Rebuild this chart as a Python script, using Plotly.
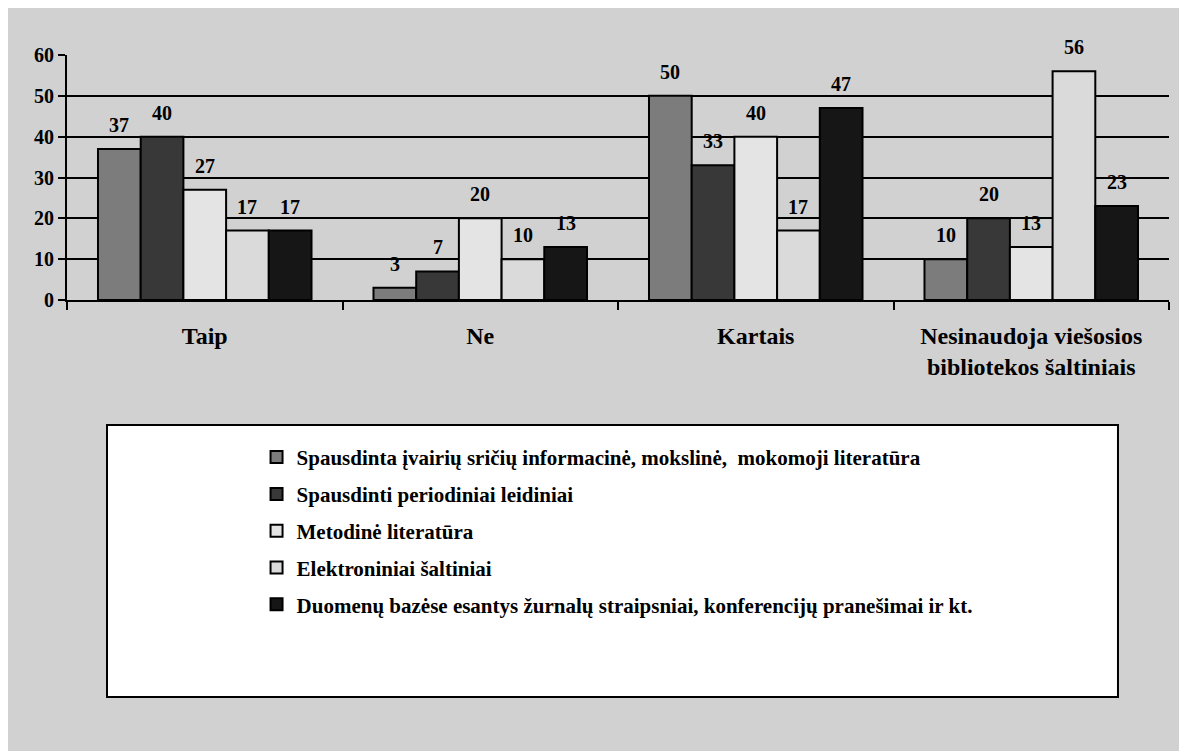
import plotly.graph_objects as go

categories = ["Taip", "Ne", "Kartais", "Nesinaudoja viešosios<br>bibliotekos šaltiniais"]
series_names = [
    "Spausdinta įvairių sričių informacinė, mokslinė,  mokomoji literatūra",
    "Spausdinti periodiniai leidiniai",
    "Metodinė literatūra",
    "Elektroniniai šaltiniai",
    "Duomenų bazėse esantys žurnalų straipsniai, konferencijų pranešimai ir kt.",
]
values = [
    [37, 3, 50, 10],
    [40, 7, 33, 20],
    [27, 20, 40, 13],
    [17, 10, 17, 56],
    [17, 13, 47, 23],
]
colors = ["#7c7c7c", "#383838", "#e4e4e4", "#dadada", "#161616"]
FONT = "Liberation Serif"
BARGAP = 0.225

fig = go.Figure()
for name, vals, col in zip(series_names, values, colors):
    fig.add_trace(go.Bar(
        x=categories, y=vals, name="<b>" + name + "</b>",
        marker=dict(color=col, line=dict(color="black", width=2)),
        legendgroup=name,
    ))

# value labels sit a little above each bar, like the original
bar_w = (1 - BARGAP) / len(values)
for i, vals in enumerate(values):
    off = (i - (len(values) - 1) / 2) * bar_w
    for j, v in enumerate(vals):
        fig.add_annotation(
            x=j + off, y=v, xref="x", yref="y", text=f"<b>{v}</b>",
            showarrow=False, yanchor="bottom", yshift=11,
            font=dict(family=FONT, size=20, color="black"),
        )

fig.update_layout(
    width=1187, height=751,
    margin=dict(l=59, r=26, t=47, b=459),
    paper_bgcolor="#d1d1d1", plot_bgcolor="rgba(0,0,0,0)",
    barmode="group", bargap=BARGAP, bargroupgap=0,
    font=dict(family=FONT, color="black"),
    showlegend=True,
    legend=dict(
        x=0.172, xanchor="left", y=-0.559, yanchor="top",
        bgcolor="rgba(0,0,0,0)", font=dict(family=FONT, size=21, color="black"),
        tracegroupgap=6.5, itemwidth=30,
    ),
    shapes=[
        dict(type="rect", xref="paper", yref="paper", x0=0.0363, x1=0.9537, y0=-1.6204, y1=-0.5102,
             fillcolor="white", line=dict(color="black", width=2), layer="below"),
    ],
)
fig.update_yaxes(
    range=[0, 60], dtick=10, showgrid=True, gridcolor="black", gridwidth=2,
    showline=True, linecolor="black", linewidth=2, ticks="outside", ticklen=7,
    tickwidth=2, tickcolor="black", zeroline=False, automargin=False,
    tickfont=dict(family=FONT, size=20, color="black"), tickprefix="<b>", ticksuffix="</b>",
)
fig.update_xaxes(
    showline=True, linecolor="black", linewidth=2, ticks="outside", tickson="boundaries",
    ticklen=8, tickwidth=2, tickcolor="black", automargin=False, ticklabelstandoff=13,
    tickfont=dict(family=FONT, size=24, color="black"), tickprefix="<b>", ticksuffix="</b>",
)
fig.write_html("out.html")
